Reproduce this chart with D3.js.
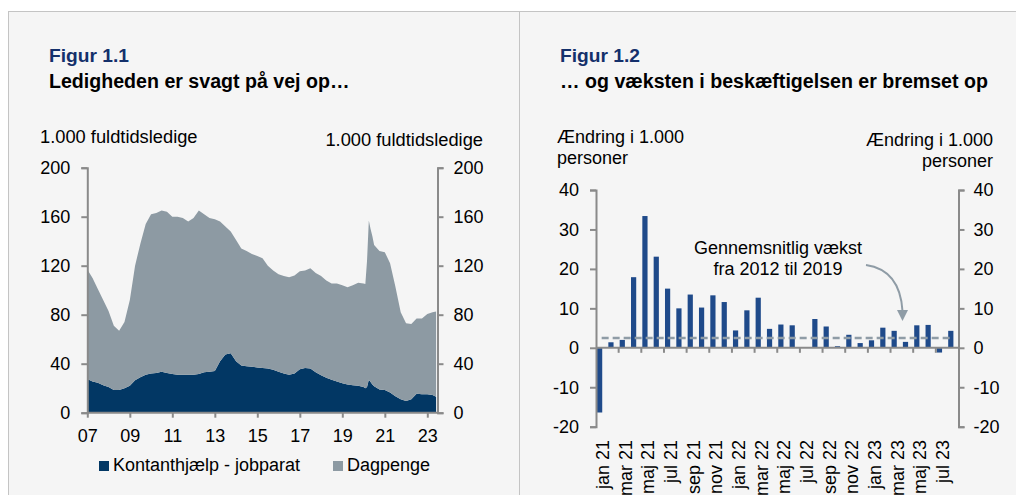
<!DOCTYPE html>
<html>
<head>
<meta charset="utf-8">
<script src="https://cdn.jsdelivr.net/npm/d3@7"></script>
<style>
  body { margin: 0; background: #fff; }
  svg { display: block; font-family: "Liberation Sans", Arial, sans-serif; }
  .axis path, .axis line { stroke: #8a8a8a; stroke-width: 2; }
  .axis text { font-size: 18px; fill: #000; font-family: "Liberation Sans", Arial, sans-serif; }
</style>
</head>
<body>
<svg width="1016" height="495"></svg>
<script>
// Figur 1.1 - ledige (1.000 fuldtidsledige)
var dates = ["2007-01","2007-04","2007-07","2007-10","2008-01","2008-04","2008-07","2008-10",
  "2009-01","2009-04","2009-07","2009-10","2010-01","2010-04","2010-07","2010-10",
  "2011-01","2011-04","2011-07","2011-10","2012-01","2012-04","2012-07","2012-10",
  "2013-01","2013-04","2013-07","2013-10","2014-01","2014-04","2014-07","2014-10",
  "2015-01","2015-04","2015-07","2015-10","2016-01","2016-04","2016-07","2016-10",
  "2017-01","2017-04","2017-07","2017-10","2018-01","2018-04","2018-07","2018-10",
  "2019-01","2019-04","2019-07","2019-10","2020-01","2020-02","2020-03","2020-04",
  "2020-05","2020-06","2020-07","2020-10","2021-01","2021-04","2021-07","2021-10",
  "2022-01","2022-04","2022-07","2022-10","2023-01","2023-04","2023-06"];

var kontant = [27.5,25.5,24.5,22.5,21,18.5,18.5,20,
  22,26.5,29,31,32,32.5,33.5,32.5,
  31.5,31,31,31,31,31.5,33,33.5,
  34,42,47.5,48.5,42,38.5,38,37.5,
  37,36.5,36,35,33.5,32,31,32,
  35.5,36.5,36,33,30.5,28.5,27,25.5,
  24,23,22.5,22,21,20,21,27,
  25,23,21.5,19,18.5,16.5,13.5,11,
  9.5,11,15.5,15,15,14.5,13];

var dagpenge = [89.5,84.5,76.5,69.5,62,52.5,48.5,54,
  70,93.5,109,123,130,130.5,131.5,131.5,
  128.5,129,128,125,128,133.5,129,125.5,
  124,114,104.5,99.5,99,95.5,94,92,
  91,89.5,84,81,79.5,79.5,79.5,80,
  80,79.5,82,81,81,79.5,78.5,80,
  80,79.5,81.5,84,84.5,85,103,130,
  125,121,115.5,113,112.5,105.5,89.5,71,
  63.5,61.5,61.5,62,65.5,67.5,69.7];

var leftTicks = [0, 40, 80, 120, 160, 200];
var yearTicks = [2007, 2009, 2011, 2013, 2015, 2017, 2019, 2021, 2023];
var seriesNames = ["Kontanthjælp - jobparat", "Dagpenge"];
var seriesColors = ["#023764", "#8d9aa3"];

// Figur 1.2 - ændring i beskæftigelsen (1.000 personer)
var months = ["jan 21","feb 21","mar 21","apr 21","maj 21","jun 21","jul 21","aug 21",
  "sep 21","okt 21","nov 21","dec 21","jan 22","feb 22","mar 22","apr 22",
  "maj 22","jun 22","jul 22","aug 22","sep 22","okt 22","nov 22","dec 22",
  "jan 23","feb 23","mar 23","apr 23","maj 23","jun 23","jul 23","aug 23"];
var change = [-16.4,1.4,2.0,17.9,33.4,23.1,15.0,10.0,
  13.5,10.2,13.3,11.6,4.4,9.5,12.7,4.8,
  5.9,5.7,0,7.3,5.4,0.4,3.3,1.2,
  1.9,5.1,4.3,1.5,5.7,5.8,-1.2,4.3];
var avgGrowth = 2.5;
var rightTicks = [-20, -10, 0, 10, 20, 30, 40];

var svg = d3.select("svg");
var parse = d3.timeParse("%Y-%m");

// baggrund
svg.append("rect").attr("x", 8).attr("y", 11).attr("width", 1008).attr("height", 484)
  .attr("fill", "#f5f5f5");
svg.append("line").attr("x1", 8).attr("x2", 1016).attr("y1", 11.5).attr("y2", 11.5)
  .attr("stroke", "#c4c4c4");
svg.append("line").attr("x1", 8.5).attr("x2", 8.5).attr("y1", 11).attr("y2", 495)
  .attr("stroke", "#c4c4c4");
svg.append("line").attr("x1", 519.5).attr("x2", 519.5).attr("y1", 11).attr("y2", 495)
  .attr("stroke", "#c4c4c4");

function titles(x, fig, sub) {
  svg.append("text").attr("x", x).attr("y", 62).attr("font-size", 19.2)
    .attr("font-weight", "bold").attr("fill", "#14306b").text(fig);
  svg.append("text").attr("x", x).attr("y", 88).attr("font-size", 19.6)
    .attr("font-weight", "bold").attr("fill", "#000").text(sub);
}
titles(49, "Figur 1.1", "Ledigheden er svagt på vej op…");
titles(560, "Figur 1.2", "… og væksten i beskæftigelsen er bremset op");

// ---- venstre figur ----
var x = d3.scaleTime()
    .domain([new Date(2007, 0, 1), new Date(2023, 0, 1)])
    .range([87.3, 427.3]);
var y = d3.scaleLinear().domain([0, 200]).range([412.7, 167.7]);
var xEnd = 437.5;

var rows = dates.map(function(d, i) {
  return { date: parse(d), k: kontant[i], d: dagpenge[i] };
});
var stacked = d3.stack().keys(["k", "d"])(rows);

var area = d3.area()
    .x(function(d) { return x(d.data.date); })
    .y0(function(d) { return y(d[0]); })
    .y1(function(d) { return y(d[1]); });

svg.selectAll(".layer").data(stacked).enter().append("path")
    .attr("class", "layer")
    .attr("fill", function(d, i) { return seriesColors[i]; })
    .attr("d", area);

svg.append("g").attr("class", "axis")
    .attr("transform", "translate(87.3,0)")
    .call(d3.axisLeft(y).tickValues(leftTicks).tickSize(6).tickPadding(11));
svg.append("g").attr("class", "axis")
    .attr("transform", "translate(" + xEnd + ",0)")
    .call(d3.axisRight(y).tickValues(leftTicks).tickSize(6).tickPadding(10));

var xAxis = d3.axisBottom(x)
    .tickValues(yearTicks.map(function(yr) { return new Date(yr, 0, 1); }))
    .tickFormat(d3.timeFormat("%y"))
    .tickSize(5).tickSizeOuter(0).tickPadding(12);
var gx = svg.append("g").attr("class", "axis")
    .attr("transform", "translate(0,412.7)")
    .call(xAxis);
gx.select(".domain").remove();
gx.append("line").attr("x1", 87.3).attr("x2", xEnd).attr("y1", 0).attr("y2", 0)
    .attr("stroke", "#8a8a8a").attr("stroke-width", 2);

svg.append("text").attr("x", 40).attr("y", 143).attr("font-size", 18.3)
    .text("1.000 fuldtidsledige");
svg.append("text").attr("x", 483).attr("y", 146).attr("font-size", 18.3)
    .attr("text-anchor", "end").text("1.000 fuldtidsledige");

var legend = svg.selectAll(".legend").data(seriesNames).enter().append("g")
    .attr("class", "legend")
    .attr("transform", function(d, i) { return "translate(" + [99, 333][i] + ",461)"; });
legend.append("rect").attr("width", 10).attr("height", 10)
    .attr("fill", function(d, i) { return seriesColors[i]; });
legend.append("text").attr("x", 14).attr("y", 10).attr("font-size", 18)
    .text(function(d) { return d; });

// ---- højre figur ----
var xb = d3.scaleBand().domain(months).range([596, 958.5]);
var yb = d3.scaleLinear().domain([-20, 40]).range([426.7, 190]);
var bw = xb.bandwidth();

svg.selectAll(".bar").data(change).enter().append("rect")
    .attr("class", "bar")
    .attr("x", function(d, i) { return xb(months[i]) + bw * 0.09; })
    .attr("width", bw * 0.46)
    .attr("y", function(d) { return yb(Math.max(d, 0)); })
    .attr("height", function(d) { return Math.abs(yb(d) - yb(0)); })
    .attr("fill", "#1f4a8a");

svg.append("line")
    .attr("x1", xb(months[0]) + bw / 2)
    .attr("x2", xb(months[months.length - 1]) + bw / 2 - 2)
    .attr("y1", yb(avgGrowth)).attr("y2", yb(avgGrowth))
    .attr("stroke", "#8f9ca6").attr("stroke-width", 2.5)
    .attr("stroke-dasharray", "7,4");

var fmt = function(d) { return String(d); };
svg.append("g").attr("class", "axis")
    .attr("transform", "translate(596,0)")
    .call(d3.axisLeft(yb).tickValues(rightTicks).tickFormat(fmt).tickSize(6).tickPadding(11));
svg.append("g").attr("class", "axis")
    .attr("transform", "translate(958.5,0)")
    .call(d3.axisRight(yb).tickValues(rightTicks).tickFormat(fmt).tickSize(6).tickPadding(9));

// nul-linje med tick for hver anden måned
var zero = svg.append("g").attr("class", "axis");
zero.append("line").attr("x1", 596).attr("x2", 958.5)
    .attr("y1", yb(0)).attr("y2", yb(0));
zero.selectAll(".mt").data(months.filter(function(m, i) { return i % 2 == 0 && i > 0; }))
  .enter().append("line")
    .attr("x1", function(m) { return xb(m); })
    .attr("x2", function(m) { return xb(m); })
    .attr("y1", yb(0)).attr("y2", yb(0) + 5);

svg.selectAll(".mlabel").data(months.filter(function(m, i) { return i % 2 == 0; }))
  .enter().append("text")
    .attr("class", "mlabel")
    .attr("font-size", 18)
    .attr("text-anchor", "end")
    .attr("dy", "0.35em")
    .attr("transform", function(m) {
      return "translate(" + (xb(m) + bw / 2 + 1) + ",440) rotate(-90)";
    })
    .text(function(m) { return m; });

svg.append("text").attr("x", 557).attr("y", 143).attr("font-size", 18).text("Ændring i 1.000");
svg.append("text").attr("x", 557).attr("y", 164).attr("font-size", 18).text("personer");
svg.append("text").attr("x", 993).attr("y", 146).attr("font-size", 18)
    .attr("text-anchor", "end").text("Ændring i 1.000");
svg.append("text").attr("x", 993).attr("y", 167).attr("font-size", 18)
    .attr("text-anchor", "end").text("personer");

svg.append("text").attr("x", 778).attr("y", 254).attr("font-size", 18)
    .attr("text-anchor", "middle").text("Gennemsnitlig vækst");
svg.append("text").attr("x", 778).attr("y", 275).attr("font-size", 18)
    .attr("text-anchor", "middle").text("fra 2012 til 2019");

// pil
svg.append("path")
    .attr("d", "M866,265 Q900,270 902.5,311")
    .attr("fill", "none").attr("stroke", "#8f9ca6").attr("stroke-width", 2);
svg.append("path")
    .attr("d", "M897,310 L908,310 L902.5,321 Z")
    .attr("fill", "#8f9ca6");
</script>
</body>
</html>
